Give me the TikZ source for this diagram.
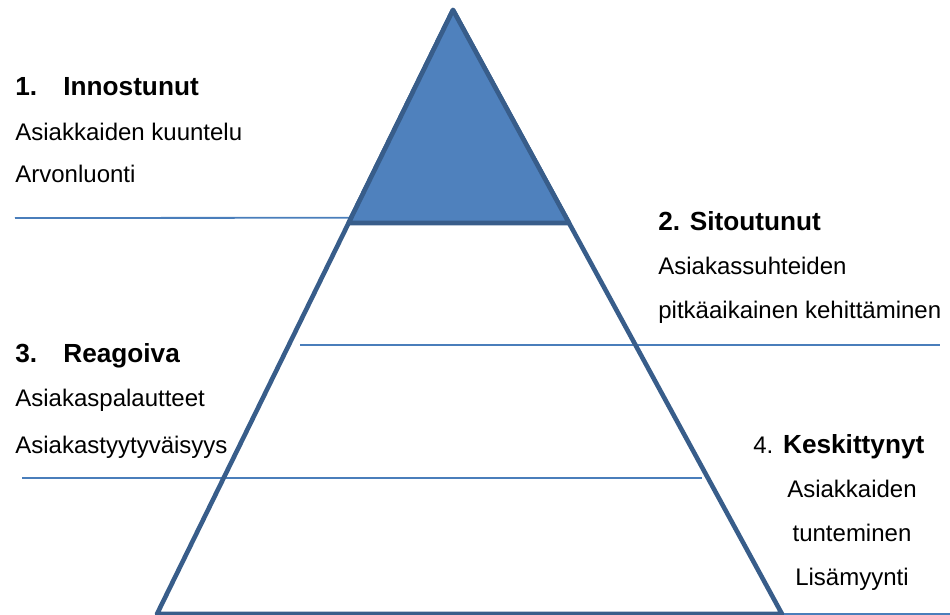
\documentclass[tikz,border=0pt]{standalone}
\usepackage{fontspec}
\setmainfont{Liberation Sans}
\usepackage{tikz}
\usetikzlibrary{calc}
\definecolor{pyrfill}{HTML}{4F81BD}
\definecolor{pyredge}{HTML}{385D8A}
\definecolor{rule}{HTML}{4A7EBB}
\tikzset{pyr/.style={x=0.5pt,y=-0.5pt,line join=round},
  rim/.style={pyredge,line width=2.3pt},
  sep/.style={rule,line width=0.9pt},
  head/.style={anchor=base west,inner sep=0pt,font=\fontsize{13.1}{15}\selectfont\bfseries},
  item/.style={anchor=base west,inner sep=0pt,font=\fontsize{12}{14}\selectfont}}

\begin{document}
\begin{tikzpicture}[pyr]
  \useasboundingbox(0,0)rectangle(950,615);\clip(0,0)rectangle(950,615);
  \coordinate(apex)at(453,10);\coordinate(bl)at(157,614);\coordinate(br)at(782,614);
  % separators
  \draw[sep](15,218)--($(apex)!0.344!(bl)$);
  \draw[sep](300,345)--(940,345);
  \draw[sep](22,478)--(702,478);
  \draw[sep](br)--(950,614);
  % pyramid
  \draw[rim](apex)--(bl)--(br)--cycle;
  \filldraw[rim,fill=pyrfill](apex)--($(apex)!0.3526!(bl)$)--($(apex)!0.3526!(br)$)--cycle;
  % labels
  \node[head](inno)at(15,96){\makebox[24pt][l]{1.}Innostunut};
  \node[item](inno1)at(15,141){Asiakkaiden kuuntelu};
  \node[item](inno2)at(15,183){Arvonluonti};
  \node[head](sito)at(658,231){2. Sitoutunut};
  \node[item](sito1)at(658,275){Asiakassuhteiden};
  \node[item](sito2)at(658,319){pitkäaikainen kehittäminen};
  \node[head](reag)at(15,363){\makebox[24pt][l]{3.}Reagoiva};
  \node[item](reag1)at(15,407){Asiakaspalautteet};
  \node[item](reag2)at(15,453){Asiakastyytyväisyys};
  \node[head](kesk)at(753,454){{\mdseries\fontsize{12}{14}\selectfont 4.} Keskittynyt};
  \foreach \t[count=\i]in{Asiakkaiden,tunteminen,Lisämyynti}
    \node[item,anchor=base](kesk\i)at(852,{454+43.7*\i}){\t};
\end{tikzpicture}
\end{document}
